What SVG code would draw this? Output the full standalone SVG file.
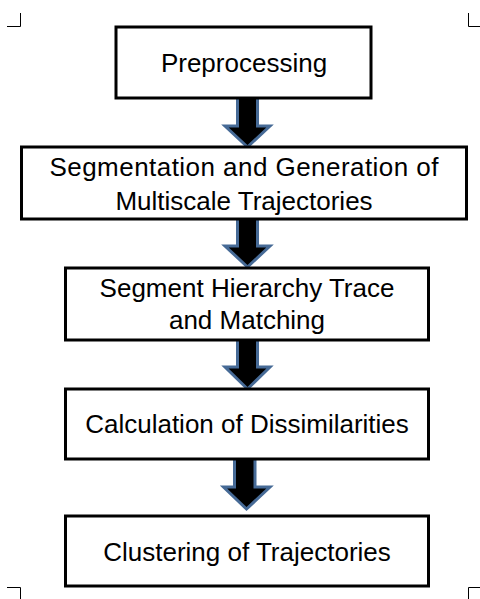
<svg xmlns="http://www.w3.org/2000/svg" width="480" height="599" viewBox="0 0 480 599">
  <style>
    .box { fill: #ffffff; stroke: #000000; stroke-width: 3; }
    .lbl { font-family: "Liberation Sans", Arial, sans-serif; font-size: 26px; fill: #000000; text-anchor: middle; }
    .arrow { fill: #000000; stroke: #466a96; stroke-width: 3; stroke-linejoin: miter; }
    .crop { fill: none; stroke: #000000; stroke-width: 1; }
  </style>
  <rect width="480" height="599" fill="#ffffff"/>

  <!-- page crop marks -->
  <g id="crop-marks">
    <path class="crop" d="M7 26.5 H20.5 V13"/>
    <path class="crop" d="M480 26.5 H468.5 V13"/>
    <path class="crop" d="M7 587.5 H20.5 V599"/>
    <path class="crop" d="M480 587.5 H468.5 V599"/>
  </g>

  <!-- block arrows between steps -->
  <g id="connectors">
    <path class="arrow" d="M237.5 97 H257.5 V126 H270 L247.5 147 L225 126 H237.5 Z"/>
    <path class="arrow" d="M237.5 218 H257.5 V246 H270 L247.5 267 L225 246 H237.5 Z"/>
    <path class="arrow" d="M237.5 339 H257.5 V367 H270 L247.5 389 L225 367 H237.5 Z"/>
    <path class="arrow" d="M234.5 458 H255 V487 H270 L246.5 509 L223.5 487 H234.5 Z"/>
  </g>

  <g id="step-preprocessing">
    <rect class="box" x="116" y="27" width="255" height="71"/>
    <text class="lbl" x="244" y="72">Preprocessing</text>
  </g>

  <g id="step-segmentation">
    <rect class="box" x="21.5" y="147" width="445" height="72"/>
    <text class="lbl" x="244" y="176" textLength="389" lengthAdjust="spacing">Segmentation and Generation of</text>
    <text class="lbl" x="244" y="210">Multiscale Trajectories</text>
  </g>

  <g id="step-hierarchy">
    <rect class="box" x="65.5" y="268" width="363" height="72"/>
    <text class="lbl" x="247" y="297">Segment Hierarchy Trace</text>
    <text class="lbl" x="247" y="329">and Matching</text>
  </g>

  <g id="step-dissimilarities">
    <rect class="box" x="65.5" y="389" width="363" height="70"/>
    <text class="lbl" x="247" y="433">Calculation of Dissimilarities</text>
  </g>

  <g id="step-clustering">
    <rect class="box" x="65.5" y="516" width="363" height="70"/>
    <text class="lbl" x="247" y="561">Clustering of Trajectories</text>
  </g>
</svg>
